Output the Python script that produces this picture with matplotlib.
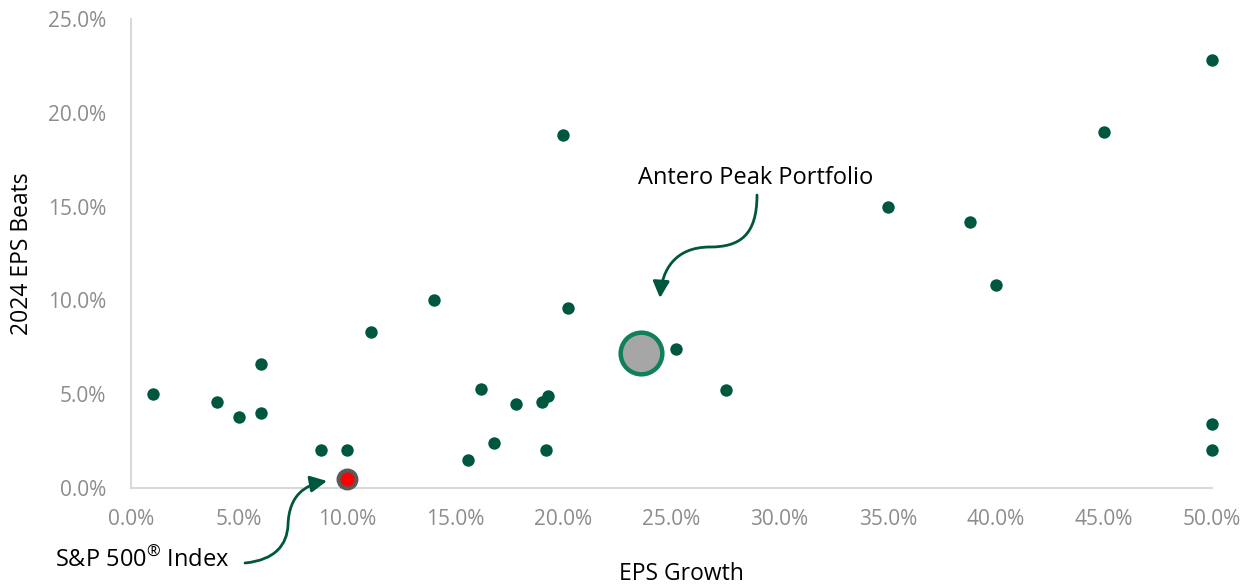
import matplotlib
matplotlib.use("Agg")
import matplotlib.pyplot as plt
from matplotlib.path import Path
from matplotlib.patches import FancyArrowPatch
from matplotlib.transforms import Affine2D
from matplotlib.ticker import FuncFormatter

# ---- data ----
eps_growth = [1.0, 4.0, 5.0, 6.0, 6.0, 8.8, 10.0, 11.1, 14.0, 15.6, 16.2, 16.8,
              17.8, 19.0, 19.3, 19.2, 20.0, 20.2, 25.2, 27.5, 35.0, 38.8, 40.0,
              45.0, 50.0, 50.0, 50.0]
eps_beats = [5.0, 4.6, 3.8, 6.6, 4.0, 2.0, 2.0, 8.3, 10.0, 1.5, 5.3, 2.4,
             4.5, 4.6, 4.9, 2.0, 18.8, 9.6, 7.4, 5.2, 15.0, 14.2, 10.8,
             19.0, 22.8, 3.4, 2.0]
portfolio_xy = (23.6, 7.2)
sp500_xy = (10.0, 0.5)
x_ticks = [0, 5, 10, 15, 20, 25, 30, 35, 40, 45, 50]
y_ticks = [0, 5, 10, 15, 20, 25]

FONT = ["Open Sans", "DejaVu Sans"]
plt.rcParams["font.family"] = FONT
plt.rcParams["mathtext.fontset"] = "custom"
plt.rcParams["mathtext.rm"] = "Open Sans"

W, H = 1243, 586
fig = plt.figure(figsize=(W / 100, H / 100), dpi=100)
ax = fig.add_axes([131 / W, 1 - 488 / H, (1212 - 131) / W, (488 - 19) / H])

dot_color = "#00573f"
ax.scatter(eps_growth, eps_beats, s=80, color=dot_color, linewidths=0,
           zorder=3, clip_on=False)
ax.plot([portfolio_xy[0]], [portfolio_xy[1]], marker="o", ms=30,
        mfc="#a6a6a6", mec="#0f7f5d", mew=3.2, zorder=4, clip_on=False)
ax.plot([sp500_xy[0]], [sp500_xy[1]], marker="o", ms=13, mfc="#ff0000",
        mec="#5a5a5a", mew=2.8, zorder=4, clip_on=False)

ax.set_xlim(0, 50)
ax.set_ylim(0, 25)
ax.set_xticks(x_ticks)
ax.set_yticks(y_ticks)
fmt = FuncFormatter(lambda v, p: f"{v:.1f}%")
ax.xaxis.set_major_formatter(fmt)
ax.yaxis.set_major_formatter(fmt)
ax.tick_params(length=0, labelsize=15, labelcolor="#8c8c8c")
ax.tick_params(axis="x", pad=15)
ax.tick_params(axis="y", pad=18)
for s in ["top", "right"]:
    ax.spines[s].set_visible(False)
for s in ["left", "bottom"]:
    ax.spines[s].set_color("#d9d9d9")
    ax.spines[s].set_linewidth(1.5)

# axis titles (placed in figure pixels to match reference)
fig.text(681 / W, 1 - 574 / H, "EPS Growth", fontsize=16.5, color="black",
         ha="center", va="center")
fig.text(22 / W, 1 - 254 / H, "2024 EPS Beats", fontsize=16.5, color="black",
         ha="center", va="center", rotation=90)

# pixel coordinates from top-left
pix = Affine2D().scale(1, -1).translate(0, H)

fig.text(638 / W, 1 - 178 / H, "Antero Peak Portfolio", fontsize=17,
         ha="left", va="center", color="black")
fig.text(55 / W, 1 - 560 / H, "S&P 500$^{\u00ae}$ Index", fontsize=17,
         ha="left", va="center", color="black")

arrow_color = "#00573f"
p1 = Path([(757, 195), (757, 235), (740, 247), (710, 247),
           (675, 247), (662, 270), (660, 298)],
          [Path.MOVETO, Path.CURVE4, Path.CURVE4, Path.CURVE4,
           Path.CURVE4, Path.CURVE4, Path.CURVE4])
a1 = FancyArrowPatch(path=p1, arrowstyle="-|>,head_length=10,head_width=5",
                     color=arrow_color, lw=2, transform=pix)
fig.add_artist(a1)

p2 = Path([(245, 563), (275, 560), (287, 545), (288, 525),
           (289, 495), (305, 485), (327, 481)],
          [Path.MOVETO, Path.CURVE4, Path.CURVE4, Path.CURVE4,
           Path.CURVE4, Path.CURVE4, Path.CURVE4])
a2 = FancyArrowPatch(path=p2, arrowstyle="-|>,head_length=10,head_width=5",
                     color=arrow_color, lw=2, transform=pix)
fig.add_artist(a2)

fig.savefig("out.png", dpi=100)
